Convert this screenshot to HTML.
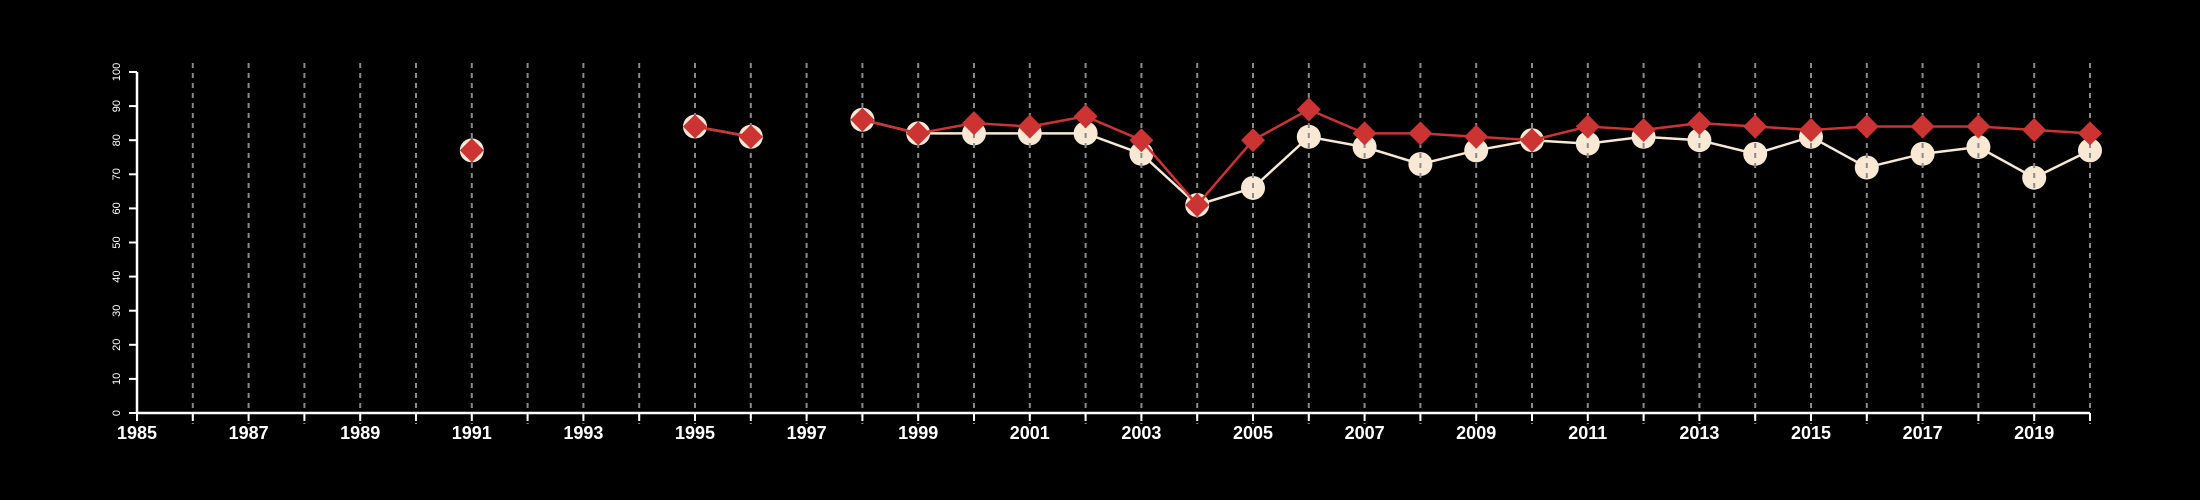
<!DOCTYPE html>
<html><head><meta charset="utf-8"><style>
html,body{margin:0;padding:0;background:#000;}
svg{display:block;}
text{font-family:"Liberation Sans",sans-serif;fill:#fff;}
</style></head><body>
<svg id="chart" width="2200" height="500" xmlns="http://www.w3.org/2000/svg">
<rect width="2200" height="500" fill="#000"/>
<g id="circles-layer"></g>
<g id="grid"></g>
<g id="diamonds-layer"></g>
<g id="axes"></g>
</svg>
<script>
const years = [1991,1992,1993,1994,1995,1996,1997,1998,1999,2000,2001,2002,2003,2004,2005,2006,2007,2008,2009,2010,2011,2012,2013,2014,2015,2016,2017,2018,2019,2020];
const redValues = [77,null,null,null,84,81,null,86,82,85,84,87,80,61,80,89,82,82,81,80,84,83,85,84,83,84,84,84,83,82];
const whiteValues = [77,null,null,null,84,81,null,86,82,82,82,82,76,61,66,81,78,73,77,80,79,81,80,76,81,72,76,78,69,77];
const yTicks = [0,10,20,30,40,50,60,70,80,90,100];
const xLabelYears = [1985,1987,1989,1991,1993,1995,1997,1999,2001,2003,2005,2007,2009,2011,2013,2015,2017,2019];

const NS="http://www.w3.org/2000/svg";
const x0=137, x1=2090, yr0=1985, yr1=2020, yBot=413, yTop=72;
function xs(v){return x0+(v-yr0)*(x1-x0)/(yr1-yr0);}
function ys(v){return yBot-(v/100)*(yBot-yTop);}
function mk(tag,attrs,parent){const e=document.createElementNS(NS,tag);for(const k in attrs)e.setAttribute(k,attrs[k]);parent.appendChild(e);return e;}

const circ=document.getElementById('circles-layer');
const grid=document.getElementById('grid');
const dia=document.getElementById('diamonds-layer');
const axes=document.getElementById('axes');

function segments(vals){
  const segs=[];let cur=[];
  vals.forEach((v,i)=>{if(v==null){if(cur.length)segs.push(cur);cur=[];}else cur.push([xs(years[i]),ys(v)]);});
  if(cur.length)segs.push(cur);return segs;
}
segments(whiteValues).forEach(s=>{
  if(s.length>1){const p=mk('polyline',{points:s.map(q=>q.join(',')).join(' '),fill:'none',stroke:'#f8e8d4','stroke-width':2.5},circ);
  
  }
});
whiteValues.forEach((v,i)=>{if(v==null)return;
  const c=mk('circle',{cx:xs(years[i]),cy:ys(v),r:12,fill:'#f8e8d4'},circ);
  
  
});
for(let y=1986;y<=2020;y++){
  const l=mk('line',{x1:xs(y),x2:xs(y),y1:63,y2:424,stroke:'#8a8a8a','stroke-width':2,'stroke-dasharray':'5,5'},grid);
  
  
}
segments(redValues).forEach(s=>{
  if(s.length>1){const p=mk('polyline',{points:s.map(q=>q.join(',')).join(' '),fill:'none',stroke:'#cc3333','stroke-width':2.5},dia);
  
  }
});
redValues.forEach((v,i)=>{if(v==null)return;
  const cx=xs(years[i]),cy=ys(v),d=12;
  const p=mk('polygon',{points:`${cx},${cy-d} ${cx+d},${cy} ${cx},${cy+d} ${cx-d},${cy}`,fill:'#cc3333'},dia);
  
  
});
// axes
const xa=mk('line',{x1:x0,x2:x1,y1:yBot,y2:yBot,stroke:'#fff','stroke-width':2.5},axes);


const ya=mk('line',{x1:x0,x2:x0,y1:yTop,y2:yBot,stroke:'#fff','stroke-width':2.5},axes);


for(let y=1985;y<=2020;y++){
  const t=mk('line',{x1:xs(y),x2:xs(y),y1:yBot,y2:yBot+8,stroke:'#fff','stroke-width':2},axes);
  
  
}
xLabelYears.forEach(y=>{
  const t=mk('text',{x:xs(y),y:439,'text-anchor':'middle','font-size':18,'font-weight':'bold'},axes);
  t.textContent=y;
  
  
});
yTicks.forEach(v=>{
  const t=mk('line',{x1:x0-8,x2:x0,y1:ys(v),y2:ys(v),stroke:'#fff','stroke-width':2},axes);
  
  
  const lb=mk('text',{x:0,y:0,'text-anchor':'middle','font-size':11,transform:`translate(120,${ys(v)}) rotate(-90)`},axes);
  lb.textContent=v;
  
  
});
</script>
</body></html>
